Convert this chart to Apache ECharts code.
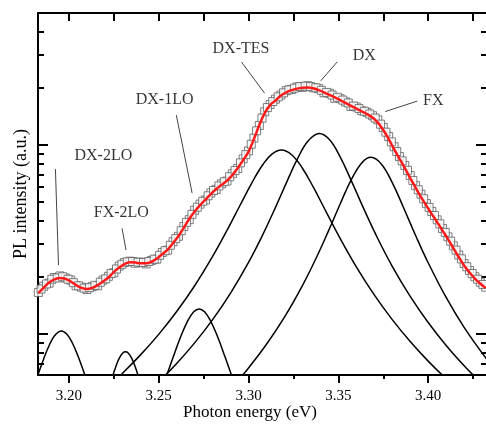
<!DOCTYPE html>
<html><head><meta charset="utf-8">
<script src="https://cdn.jsdelivr.net/npm/echarts@6/dist/echarts.min.js"></script>
<style>html,body{margin:0;padding:0;background:#fff}#c{width:486px;height:424px}</style>
</head><body><div id="c"></div>
<script>
// ---- axis ticks ----
const majorX = [3.20, 3.25, 3.30, 3.35, 3.40];
const minorX = [3.225, 3.275, 3.325, 3.375, 3.425];
const majorY = [1, 10];
const minorY = [0.7, 0.8, 0.9, 2, 3, 4, 5, 6, 7, 8, 9, 20, 30, 40];

// ---- measured spectrum (two interleaved sample sets) and total fit ----
const energy = [3.183,3.186,3.189,3.192,3.195,3.198,3.201,3.204,3.207,3.210,3.213,3.216,3.219,3.222,3.225,3.228,3.231,3.234,3.237,3.240,3.243,3.246,3.249,3.252,3.255,3.258,3.261,3.264,3.267,3.270,3.273,3.276,3.279,3.282,3.285,3.288,3.291,3.294,3.297,3.300,3.303,3.306,3.309,3.312,3.315,3.318,3.321,3.324,3.327,3.330,3.333,3.336,3.339,3.342,3.345,3.348,3.351,3.354,3.357,3.360,3.363,3.366,3.369,3.372,3.375,3.378,3.381,3.384,3.387,3.390,3.393,3.396,3.399,3.402,3.405,3.408,3.411,3.414,3.417,3.420,3.423,3.426,3.429,3.432];
const measuredPL = [1.66,1.79,1.86,1.99,2.03,1.98,1.93,1.80,1.77,1.72,1.78,1.80,1.93,2.02,2.11,2.29,2.39,2.43,2.37,2.40,2.35,2.45,2.49,2.70,2.78,3.08,3.29,3.71,4.03,4.52,4.87,5.12,5.58,5.83,6.24,6.45,7.05,7.52,8.45,9.31,10.9,12.7,15.0,16.4,17.5,18.4,19.4,19.7,20.3,20.2,20.6,20.1,19.9,18.9,18.8,17.7,17.6,16.9,16.0,15.9,15.2,14.9,14.3,13.6,12.4,11.1,9.8,8.7,7.8,6.9,6.1,5.5,4.9,4.45,4.02,3.62,3.27,2.93,2.62,2.36,2.17,2.01,1.88,1.77];
const energyMid = [3.1845,3.1875,3.1905,3.1935,3.1965,3.1995,3.2025,3.2055,3.2085,3.2115,3.2145,3.2175,3.2205,3.2235,3.2265,3.2295,3.2325,3.2355,3.2385,3.2415,3.2445,3.2475,3.2505,3.2535,3.2565,3.2595,3.2625,3.2655,3.2685,3.2715,3.2745,3.2775,3.2805,3.2835,3.2865,3.2895,3.2925,3.2955,3.2985,3.3015,3.3045,3.3075,3.3105,3.3135,3.3165,3.3195,3.3225,3.3255,3.3285,3.3315,3.3345,3.3375,3.3405,3.3435,3.3465,3.3495,3.3525,3.3555,3.3585,3.3615,3.3645,3.3675,3.3705,3.3735,3.3765,3.3795,3.3825,3.3855,3.3885,3.3915,3.3945,3.3975,3.4005,3.4035,3.4065,3.4095,3.4125,3.4155,3.4185,3.4215,3.4245,3.4275,3.4305];
const measuredMid = [1.73,1.84,1.95,1.98,2.01,1.95,1.87,1.80,1.75,1.76,1.81,1.88,1.96,2.09,2.21,2.34,2.41,2.42,2.40,2.39,2.42,2.49,2.61,2.76,2.95,3.20,3.52,3.90,4.30,4.69,5.04,5.39,5.75,6.08,6.40,6.80,7.33,8.05,8.90,10.1,11.9,13.9,15.8,17.0,18.0,18.9,19.6,20.0,20.4,20.5,20.4,20.1,19.5,19.0,18.4,17.9,17.3,16.7,16.1,15.6,15.1,14.6,13.9,12.9,11.7,10.4,9.25,8.25,7.35,6.50,5.80,5.20,4.68,4.24,3.83,3.45,3.10,2.78,2.50,2.27,2.09,1.95,1.83];
const fitPL = [1.648,1.762,1.873,1.947,1.981,1.960,1.896,1.816,1.756,1.730,1.756,1.816,1.896,1.990,2.128,2.248,2.347,2.396,2.390,2.367,2.367,2.413,2.508,2.650,2.800,3.030,3.300,3.660,4.060,4.447,4.814,5.148,5.505,5.851,6.158,6.490,6.939,7.556,8.329,9.238,10.76,12.76,14.77,16.28,17.20,18.28,19.03,19.54,19.90,20.12,20.20,20.00,19.54,19.03,18.44,17.88,17.30,16.72,16.14,15.60,15.08,14.59,13.98,13.15,12.01,10.76,9.524,8.484,7.556,6.690,5.958,5.307,4.785,4.314,3.913,3.528,3.182,2.851,2.556,2.304,2.116,1.967,1.850,1.751];

// ---- fitted components ----
const dx2loE = [3.180,3.183,3.186,3.189,3.192,3.1958,3.199,3.202,3.205,3.208,3.211];
const dx2loI = [0.5086,0.6165,0.7408,0.8696,0.9782,1.037,0.9946,0.8940,0.7668,0.6403,0.5286];
const fx2loE = [3.222,3.2235,3.225,3.2265,3.228,3.230,3.2315,3.233,3.235,3.2365,3.238,3.2395,3.241];
const fx2loI = [0.4986,0.5608,0.6255,0.6885,0.7437,0.7938,0.806,0.7938,0.7437,0.6885,0.6255,0.5608,0.4986];
const dx1loE = [3.250,3.254,3.258,3.262,3.266,3.2695,3.2725,3.2755,3.279,3.283,3.287,3.291,3.295];
const dx1loI = [0.4630,0.5885,0.7528,0.9549,1.168,1.311,1.356,1.311,1.168,0.9549,0.7528,0.5885,0.4630];
const dxTesE = [3.222,3.230,3.240,3.250,3.260,3.270,3.280,3.288,3.295,3.302,3.308,3.313,3.3183,3.324,3.330,3.336,3.343,3.350,3.360,3.370,3.380,3.390,3.400,3.410,3.418];
const dxTesI = [0.529,0.622,0.778,0.996,1.315,1.801,2.574,3.535,4.745,6.354,7.894,8.954,9.41,8.887,7.541,6.004,4.471,3.337,2.269,1.611,1.192,0.9127,0.7189,0.5798,0.4953];
const dxE = [3.250,3.260,3.270,3.280,3.290,3.300,3.308,3.315,3.321,3.327,3.333,3.3394,3.345,3.351,3.357,3.364,3.372,3.380,3.390,3.400,3.410,3.420,3.430];
const dxI = [0.5584,0.6988,0.8980,1.192,1.648,2.395,3.367,4.679,6.293,8.367,10.48,11.53,10.70,8.665,6.546,4.635,3.192,2.282,1.581,1.150,0.8702,0.6794,0.5444];
const fxE = [3.290,3.300,3.310,3.320,3.330,3.338,3.345,3.351,3.357,3.363,3.3682,3.374,3.380,3.386,3.393,3.400,3.410,3.420,3.433];
const fxI = [0.5122,0.6613,0.8826,1.229,1.805,2.565,3.601,4.879,6.502,8.047,8.61,7.922,6.331,4.734,3.325,2.383,1.561,1.085,0.7264];

// ---- annotations ----
const annotationNames = ['DX-2LO','FX-2LO','DX-1LO','DX-TES','DX','FX'];
const annotationE = [3.2192,3.2292,3.2533,3.2958,3.3644,3.4028];
const annotationI = [8.745,4.367,17.30,32.20,29.57,17.09];
const leaderStartE = [3.1925,3.2296,3.2598,3.2961,3.3494,3.3939];
const leaderStartI = [7.464,3.624,14.41,27.49,27.59,17.09];
const leaderEndE = [3.1942,3.2318,3.2686,3.3089,3.3402,3.3761];
const leaderEndI = [2.318,2.783,5.572,18.84,21.88,15.04];

const X_MIN = 3.1828, X_MAX = 3.4333, Y_MIN = 0.607, Y_MAX = 50;
const SERIF = '"Liberation Serif", "DejaVu Serif", serif';

const pairs = (xs, ys) => xs.map((x, i) => [x, ys[i]]);
const chart = echarts.init(document.getElementById('c'), null, {renderer: 'canvas'});

const frame = {lineStyle: {color: '#000', width: 2}};
function xAx(extra) {
  return Object.assign({type: 'value', min: X_MIN, max: X_MAX, splitLine: {show: false},
    axisLabel: {show: false}, axisLine: {show: false}}, extra);
}
function yAx(extra) {
  return Object.assign({type: 'log', logBase: 10, min: Y_MIN, max: Y_MAX, splitLine: {show: false},
    axisLabel: {show: false}, axisLine: {show: false}}, extra);
}
const compLine = (name, e, v) => ({
  name, type: 'line', data: pairs(e, v), showSymbol: false, smooth: 0.4, clip: true, z: 2,
  lineStyle: {color: '#000', width: 1.5}, silent: true
});
const squares = (name, e, v) => ({
  name, type: 'scatter', data: pairs(e, v), symbol: 'rect', symbolSize: 8, z: 3, silent: true,
  itemStyle: {color: '#fff', borderColor: '#5c5c5c', borderWidth: 1}
});

chart.setOption({
  animation: false,
  backgroundColor: '#fff',
  grid: {left: 38, right: -2, top: 13, bottom: 49, containLabel: false, outerBoundsMode: 'none'},
  graphic: [{
    type: 'text', x: 250, y: 413, silent: true,
    style: {text: 'Photon energy (eV)', align: 'center', verticalAlign: 'middle',
      font: '17px ' + SERIF, fill: '#000'}
  }],
  xAxis: [
    xAx({position: 'bottom', axisLine: Object.assign({show: true, onZero: false}, frame),
      axisTick: {show: true, customValues: majorX, length: 8, inside: false, lineStyle: {color: '#000', width: 2}},
      axisLabel: {show: true, customValues: majorX, formatter: v => v.toFixed(2), fontFamily: SERIF, fontSize: 15, color: '#000', margin: 14}}),
    xAx({position: 'bottom', axisTick: {show: true, customValues: minorX, length: 4, inside: false, lineStyle: {color: '#000', width: 2}}}),
    xAx({position: 'top', axisLine: Object.assign({show: true, onZero: false}, frame),
      axisTick: {show: true, customValues: majorX.concat(minorX), length: 8, inside: true, lineStyle: {color: '#000', width: 2}}})
  ],
  yAxis: [
    yAx({position: 'left', axisLine: Object.assign({show: true, onZero: false}, frame),
      axisTick: {show: true, customValues: majorY, length: 10, inside: true, lineStyle: {color: '#000', width: 2}},
      name: 'PL intensity (a.u.)', nameLocation: 'middle', nameGap: 8,
      nameTextStyle: {fontFamily: SERIF, fontSize: 18, color: '#000'}}),
    yAx({position: 'left', axisTick: {show: true, customValues: minorY, length: 6, inside: true, lineStyle: {color: '#000', width: 2}}}),
    yAx({position: 'right', axisLine: Object.assign({show: true, onZero: false}, frame),
      axisTick: {show: true, customValues: majorY, length: 12, inside: true, lineStyle: {color: '#000', width: 2}}}),
    yAx({position: 'right', axisTick: {show: true, customValues: minorY, length: 7, inside: true, lineStyle: {color: '#000', width: 2}}})
  ],
  series: [
    compLine('DX-2LO', dx2loE, dx2loI),
    compLine('FX-2LO', fx2loE, fx2loI),
    compLine('DX-1LO', dx1loE, dx1loI),
    compLine('DX-TES', dxTesE, dxTesI),
    compLine('DX', dxE, dxI),
    compLine('FX', fxE, fxI),
    squares('measured', energy, measuredPL),
    squares('measured (mid)', energyMid, measuredMid),
    {name: 'fit', type: 'line', data: pairs(energy, fitPL), showSymbol: false, smooth: 0.4, z: 4,
      lineStyle: {color: '#ff1a1a', width: 2.5}, silent: true},
    {name: 'leaders', type: 'lines', coordinateSystem: 'cartesian2d', polyline: false, z: 5, silent: true,
      lineStyle: {color: '#444', width: 1, opacity: 1, curveness: 0},
      data: annotationNames.map((n, i) => ({coords: [[leaderStartE[i], leaderStartI[i]], [leaderEndE[i], leaderEndI[i]]]}))},
    {name: 'labels', type: 'scatter', symbolSize: 0, z: 6, silent: true,
      data: annotationNames.map((n, i) => ({name: n, value: [annotationE[i], annotationI[i]]})),
      label: {show: true, position: 'inside', formatter: '{b}', fontFamily: SERIF, fontSize: 16, color: '#000'}}
  ]
});
</script></body></html>
